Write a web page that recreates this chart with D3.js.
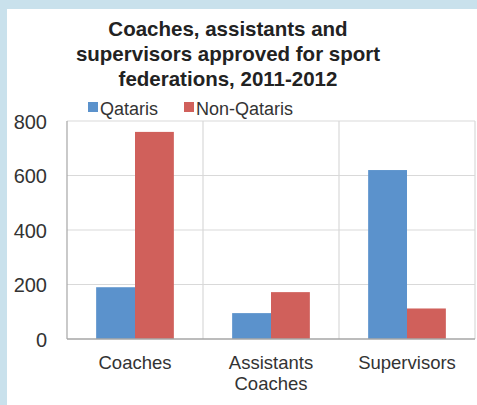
<!DOCTYPE html>
<html><head><meta charset="utf-8">
<script src="https://cdn.jsdelivr.net/npm/d3@7"></script>
<style>
html,body{margin:0;padding:0;background:#c9e1ec;}
svg{display:block;}
text{font-family:"Liberation Sans",Arial,sans-serif;}
</style></head>
<body>
<svg id="c" width="477" height="405"></svg>
<script>
const categories = [["Coaches"], ["Assistants", "Coaches"], ["Supervisors"]];
const seriesNames = ["Qataris", "Non-Qataris"];
const qataris = [190, 95, 620];
const nonQataris = [760, 172, 112];
const yTicks = [0, 200, 400, 600, 800];
const titleLines = ["Coaches, assistants and", "supervisors approved for sport", "federations, 2011-2012"];
const colors = ["#5b92cc", "#d0605b"];

const svg = d3.select("#c");
svg.append("rect").attr("x", 7).attr("y", 9).attr("width", 470).attr("height", 396).attr("fill", "#ffffff");

const m = {left: 67, right: 475, top: 121, bottom: 339};
const x = d3.scaleBand().domain(d3.range(categories.length)).range([m.left, m.right]).paddingInner(0).paddingOuter(0);
const inner = d3.scaleBand().domain(d3.range(seriesNames.length)).range([0, x.bandwidth()]).paddingInner(0).paddingOuter(0.75);
const y = d3.scaleLinear().domain([0, 800]).range([m.bottom, m.top]);

// gridlines
svg.append("g").selectAll("line").data(yTicks.filter(d => d > 0)).join("line")
  .attr("x1", m.left).attr("x2", m.right).attr("y1", d => y(d)).attr("y2", d => y(d))
  .attr("stroke", "#d9d9d9").attr("stroke-width", 1.2);
// vertical dividers
svg.append("g").selectAll("line").data(d3.range(categories.length + 1)).join("line")
  .attr("x1", d => m.left + d * x.step()).attr("x2", d => m.left + d * x.step())
  .attr("y1", m.top).attr("y2", m.bottom)
  .attr("stroke", d => d === 0 ? "#a6a6a6" : "#d9d9d9").attr("stroke-width", 1.2);

// bars
const data = [qataris, nonQataris];
data.forEach((vals, si) => {
  svg.append("g").selectAll("rect").data(vals).join("rect")
    .attr("x", (d, i) => x(i) + inner(si))
    .attr("width", inner.bandwidth())
    .attr("y", d => y(d))
    .attr("height", d => y(0) - y(d))
    .attr("fill", colors[si]);
});

// baseline
svg.append("line").attr("x1", m.left).attr("x2", m.right).attr("y1", y(0)).attr("y2", y(0))
  .attr("stroke", "#a6a6a6").attr("stroke-width", 1.5);

// y axis labels
const yAxis = d3.axisLeft(y).tickValues(yTicks).tickSize(0).tickPadding(20);
const yg = svg.append("g").attr("transform", `translate(${m.left},0)`).call(yAxis);
yg.select(".domain").remove();
yg.selectAll("text").attr("font-size", 20).attr("fill", "#333333").attr("font-family", "Liberation Sans, Arial, sans-serif").attr("dy", "0.35em");

// x labels
const xg = svg.append("g");
categories.forEach((lines, i) => {
  const t = xg.append("text").attr("x", x(i) + x.bandwidth() / 2).attr("y", 369)
    .attr("text-anchor", "middle").attr("font-size", 18.5).attr("fill", "#333333");
  lines.forEach((l, j) => t.append("tspan").attr("x", x(i) + x.bandwidth() / 2).attr("dy", j === 0 ? 0 : 21).text(l));
});

// title
const tt = svg.append("text").attr("text-anchor", "middle").attr("font-size", 20.5).attr("font-weight", "bold").attr("fill", "#222222");
titleLines.forEach((l, j) => tt.append("tspan").attr("x", 228).attr("y", 36 + j * 25).text(l));

// legend
const leg = svg.append("g");
const legX = [88, 184];
seriesNames.forEach((n, i) => {
  leg.append("rect").attr("x", legX[i]).attr("y", 102).attr("width", 10).attr("height", 10).attr("fill", colors[i]);
  leg.append("text").attr("x", legX[i] + 12).attr("y", 115).attr("font-size", 18).attr("fill", "#333333").text(n);
});
</script>
</body></html>
